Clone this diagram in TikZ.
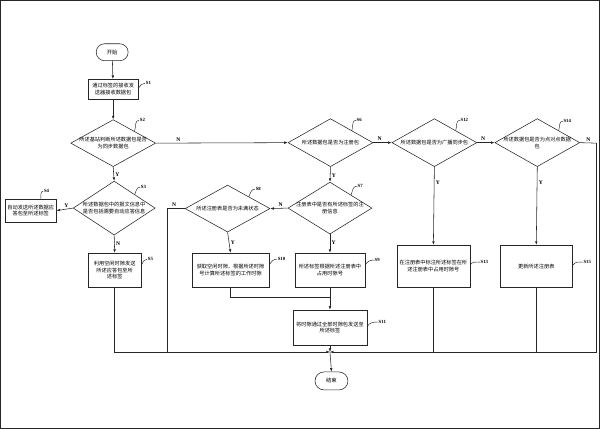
\documentclass[tikz,border=0pt]{standalone}
\usepackage{fontspec}
\setmainfont{Liberation Serif}
\newfontfamily\cjk{Noto Sans CJK SC}
\usetikzlibrary{shapes.geometric,shapes.misc,arrows.meta}
\begin{document}
\begin{tikzpicture}[x=1pt,y=-1pt,line width=0.55pt,
  every path/.style={draw=black!85},
  box/.style={draw, rectangle, inner sep=0pt, align=center, font=\cjk\fontsize{5.2}{6.8}\selectfont},
  dia/.style={draw, diamond, inner sep=0pt},
  dtext/.style={align=center, inner sep=0pt, font=\cjk\fontsize{5.2}{6.8}\selectfont},
  term/.style={draw, rounded rectangle, inner sep=0pt, font=\cjk\fontsize{5.4}{6.8}\selectfont},
  yn/.style={font=\bfseries\fontsize{5.6}{6}\selectfont, inner sep=0.5pt},
  slab/.style={font=\bfseries\fontsize{4.8}{5}\selectfont, inner sep=0.5pt, anchor=west},
  arr/.style={-{Latex[length=3.5pt,width=2.6pt]}},
  sq/.style={line width=0.45pt}]
\fill[white] (0,0) rectangle (600,428);
\useasboundingbox (0,0) rectangle (600,428);

% nodes
\node[term, minimum width=32pt, minimum height=17pt] (start) at (112,52) {开始};
\node[box, minimum width=50pt, minimum height=20pt] (s1) at (113,89) {通过标签的接收发\\送器接收数据包};
\node[dia, minimum width=85pt, minimum height=47pt] (s2) at (113,143) {};
\node[dtext] at (s2) {所述基站判断所述数据包是否\\为同步数据包};
\node[dia, minimum width=82pt, minimum height=54pt] (s3) at (114,208) {};
\node[dtext] at (s3) {所述数据包中的报文信息中\\是否包括需要自动应答信息};
\node[box, minimum width=51pt, minimum height=23pt] (s4) at (30.5,210.5) {自动发送所述数据应\\答包至所述标签};
\node[box, minimum width=53pt, minimum height=34pt] (s5) at (114.5,270) {利用空闲时隙发送\\所述应答包至所\\述标签};

\node[dia, minimum width=85pt, minimum height=48pt] (s6) at (330.5,142.5) {};
\node[dtext] at (s6) {所述数据包是否为注册包};
\node[dia, minimum width=84pt, minimum height=52pt] (s7) at (330,208) {};
\node[dtext] at (s7) {注册表中是否有所述标签的注\\册信息};
\node[dia, minimum width=85pt, minimum height=47pt] (s8) at (227.5,208.5) {};
\node[dtext] at (s8) {所述注册表是否为未满状态};
\node[box, minimum width=70pt, minimum height=34pt] (s9) at (330,270) {所述标签根据所述注册表中\\占用时隙号};
\node[box, minimum width=77pt, minimum height=34pt] (s10) at (230.5,270) {获取空闲时隙，根据所述时隙\\号计算所述标签的工作时隙};
\node[box, minimum width=74pt, minimum height=35pt] (s11) at (330,327.5) {将时隙通过全部时隙包发送至\\所述标签};
\node[term, minimum width=33pt, minimum height=18pt] (end) at (331.5,381) {结束};

\node[dia, minimum width=85pt, minimum height=48pt] (s12) at (434.5,142.5) {};
\node[dtext] at (s12) {所述数据包是否为广播同步包};
\node[box, minimum width=73pt, minimum height=42pt] (s13) at (433.5,266) {在注册表中标注所述标签在所\\述注册表中占用时隙号};
\node[dia, minimum width=85pt, minimum height=48pt] (s14) at (537.5,142.5) {};
\node[dtext] at (s14) {所述数据包是否为点对点数据\\包};
\node[box, minimum width=73pt, minimum height=42pt] (s15) at (536.5,266) {更新所述注册表};

\coordinate (jn) at (330,352);
\coordinate (mg) at (330,297);
\coordinate (rt) at (597,143);

% connectors
\draw[arr] (start) -- (s1);
\draw[arr] (s1) -- (s2);
\draw[arr] (s2.east) -- node[yn, pos=0.17, above=1pt] {N} (s6.west);
\draw[arr] (s2.south) -- node[yn, right=1pt, pos=0.55] {Y} (s3.north);
\draw[arr] (s3.west) -- node[yn, above=1pt, pos=0.4] {Y} (s4.east);
\draw[arr] (s3.south) -- node[yn, right=1pt, pos=0.5] {N} (s5.north);
\draw[arr] (s5.south) |- (jn);
\draw[arr] (s6.east) -- node[yn, above=1pt, pos=0.35] {N} (s12.west);
\draw[arr] (s12.east) -- node[yn, above=1pt, pos=0.35] {N} (s14.west);
\draw[arr] (rt) |- (jn);
\draw (s14.east) -- node[yn, above=1pt, pos=0.5] {N} (rt);
\draw[arr] (s6.south) -- node[yn, right=1pt, pos=0.6] {Y} (s7.north);
\draw[arr] (s7.west) -- node[yn, above=1pt, pos=0.4] {N} (s8.east);
\draw (s8.west) -| node[yn, above=1pt, pos=0.3] {N} (167,352);
\draw[arr] (s8.south) -- node[yn, right=1pt, pos=0.5] {Y} (s10.north);
\draw[arr] (s7.south) -- node[yn, right=1pt, pos=0.45] {Y} (s9.north);
\draw[arr] (s12.south) -- node[yn, right=1pt, pos=0.2] {Y} (s13.north);
\draw[arr] (s14.south) -- node[yn, right=1pt, pos=0.2] {Y} (s15.north);
\draw (s13.south) -- (s13.south |- jn);
\draw (s15.south) -- (s15.south |- jn);
\draw (s10.south) |- (mg);
\draw (s9.south) -- (mg);
\draw[arr] (mg) -- (s11.north);
\draw[arr] (s11.south) -- (jn);
\draw[arr] (jn) -- (end.north);

% step labels
\node[slab] (l1) at (145,83) {S1};
\node[slab] (l2) at (139,120) {S2};
\node[slab] (l3) at (140,187) {S3};
\node[slab] (l4) at (43,191) {S4};
\node[slab] (l5) at (147,259) {S5};
\node[slab] (l6) at (356,120) {S6};
\node[slab] (l7) at (357,186) {S7};
\node[slab] (l8) at (255,189) {S8};
\node[slab] (l9) at (374,260) {S9};
\node[slab] (l10) at (277,259) {S10};
\node[slab] (l11) at (378,322) {S11};
\node[slab] (l12) at (460,120) {S12};
\node[slab] (l13) at (480,262) {S13};
\node[slab] (l14) at (563,121) {S14};
\node[slab] (l15) at (583,262) {S15};

\draw[sq] ([yshift=1pt]s1.east) to[out=60,in=180] (l1.west);
\draw[sq] (s2.north east) to[out=70,in=180] (l2.west);
\draw[sq] (s3.north east) to[out=70,in=180] (l3.west);
\draw[sq] ([xshift=10pt]s4.north) to[out=80,in=180] (l4.west);
\draw[sq] ([yshift=5pt]s5.east) to[out=60,in=180] (l5.west);
\draw[sq] (s6.north east) to[out=70,in=180] (l6.west);
\draw[sq] (s7.north east) to[out=70,in=180] (l7.west);
\draw[sq] (s8.north east) to[out=70,in=180] (l8.west);
\draw[sq] ([yshift=5pt]s9.east) to[out=60,in=180] (l9.west);
\draw[sq] ([yshift=5pt]s10.east) to[out=60,in=180] (l10.west);
\draw[sq] ([yshift=1pt]s11.east) to[out=60,in=180] (l11.west);
\draw[sq] (s12.north east) to[out=70,in=180] (l12.west);
\draw[sq] ([yshift=1pt]s13.east) to[out=60,in=180] (l13.west);
\draw[sq] (s14.north east) to[out=70,in=180] (l14.west);
\draw[sq] ([yshift=1pt]s15.east) to[out=60,in=180] (l15.west);
\end{tikzpicture}
\end{document}
